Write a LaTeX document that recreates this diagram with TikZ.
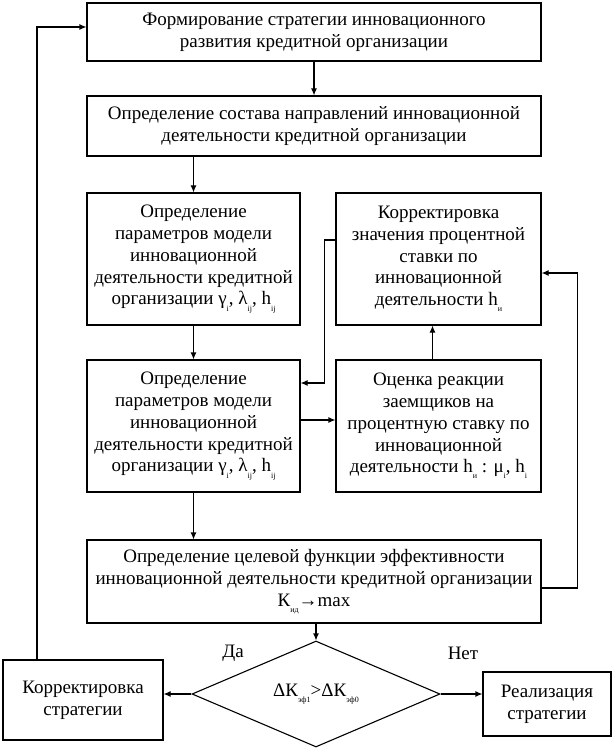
\documentclass[tikz,border=0pt]{standalone}
\usepackage{fontspec}
\setmainfont{Liberation Serif}
\newfontfamily\tms{Liberation Serif}
\usetikzlibrary{arrows.meta,shapes.geometric}
\newcommand{\mysub}[1]{\raisebox{-0.7ex}{\fontsize{8}{8}\selectfont #1}}
\begin{document}
\begin{tikzpicture}[x=1pt,y=-1pt,
  box/.style={draw,line width=1.1pt,inner sep=0pt,align=center,font=\tms\fontsize{19}{21.8}\selectfont},
  arr/.style={line width=1.1pt,-{Latex[length=7pt,width=6pt]}},
  lbl/.style={font=\tms\fontsize{19}{21.8}\selectfont}]
\useasboundingbox (0,0) rectangle (615,751);
\node[box,minimum width=454pt,minimum height=58pt] (b1) at (314,32) {Формирование стратегии инновационного\\развития кредитной организации};
\node[box,minimum width=454pt,minimum height=60pt] (b2) at (314,126) {Определение состава направлений инновационной\\деятельности кредитной организации};
\node[box,minimum width=213pt,minimum height=132pt] (b3) at (193.5,259) {Определение\\параметров модели\\инновационной\\деятельности кредитной\\организации γ\mysub{i}, λ\mysub{ij}, h\mysub{ij}};
\node[box,minimum width=205pt,minimum height=132pt] (b4) at (438.5,259) {Корректировка\\значения процентной\\ставки по\\инновационной\\деятельности h\mysub{и}};
\node[box,minimum width=213pt,minimum height=132pt] (b5) at (193.5,426) {Определение\\параметров модели\\инновационной\\деятельности кредитной\\организации γ\mysub{i}, λ\mysub{ij}, h\mysub{ij}};
\node[box,minimum width=205pt,minimum height=132pt] (b6) at (438.5,426) {Оценка реакции\\заемщиков на\\процентную ставку по\\инновационной\\деятельности h\mysub{и} : μ\mysub{i}, h\mysub{i}};
\node[box,minimum width=454pt,minimum height=83pt] (b7) at (314,581.5) {Определение целевой функции эффективности\\инновационной деятельности кредитной организации\\К\mysub{ид}→max};
\node[box,shape=diamond,minimum width=248pt,minimum height=104pt] (dia) at (316,694) {ΔК\mysub{эф1}>ΔК\mysub{эф0}};
\node[box,minimum width=160pt,minimum height=80pt] (ks) at (83,700) {Корректировка\\стратегии};
\node[box,minimum width=128pt,minimum height=64pt] (rs) at (547,704) {Реализация\\стратегии};
\node[lbl] (da) at (233,653) {Да};
\node[lbl] (net) at (463,653) {Нет};
\draw[arr] (b1.south) -- (b2.north);
\draw[arr] (b2.south -| b3.north) -- (b3.north);
\draw[arr] (b3.south) -- (b5.north);
\draw[arr] ([yshift=6pt]b5.east) -- ([yshift=6pt]b6.west);
\draw[arr] ([xshift=-6pt]b6.north) -- ([xshift=-6pt]b4.south);
\draw[arr] ([yshift=19pt]b4.west) -- ++(-11,0) |- ([yshift=43pt]b5.east);
\draw[arr] (b5.south) -- (b7.north -| b5.south);
\draw[arr] (b7.south -| dia.north) -- (dia.north);
\draw[arr] (dia.west) -- (dia.west -| ks.east);
\draw[arr] (dia.east) -- (dia.east -| rs.west);
\draw[arr] ([xshift=-46pt]ks.north) |- ([yshift=5pt]b1.west);
\draw[arr] ([yshift=-6.5pt]b7.east) -- ++(36,0) |- ([yshift=-14pt]b4.east);
\end{tikzpicture}
\end{document}
